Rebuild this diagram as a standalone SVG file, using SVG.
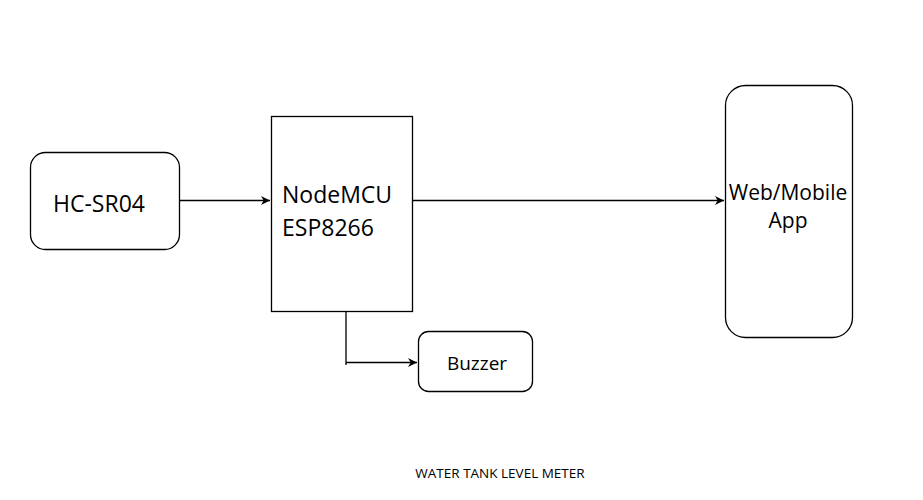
<svg xmlns="http://www.w3.org/2000/svg" width="923" height="500" viewBox="0 0 923 500">
<style>
.box{fill:#fff;stroke:#000;stroke-width:1.3}
.t{font-family:"Open Sans","Noto Sans",sans-serif;fill:#000}
.conn{fill:none;stroke:#000;stroke-width:1.3}
</style>
<defs>
<marker id="ah" viewBox="0 0 10 10" refX="10" refY="5" markerWidth="9" markerHeight="9" markerUnits="userSpaceOnUse" orient="auto">
<path d="M0,0 L10,5 L0,10 L3,5 Z" fill="#000"/>
</marker>
</defs>
<rect width="923" height="500" fill="#fff"/>
<g id="connectors">
<path class="conn" d="M180,200.5 H270" marker-end="url(#ah)"/>
<path class="conn" d="M413,200.5 H724" marker-end="url(#ah)"/>
<path class="conn" d="M346,312 V365 M346,362.5 H417" marker-end="url(#ah)"/>
</g>
<g id="hcsr04">
<rect class="box" x="30.5" y="152.5" width="149" height="97" rx="15"/>
<text class="t" x="53" y="212" font-size="23">HC-SR04</text>
</g>
<g id="nodemcu">
<rect class="box" x="271.5" y="116.5" width="141" height="195"/>
<text class="t" x="282" y="203" font-size="23">NodeMCU</text>
<text class="t" x="282" y="236" font-size="23">ESP8266</text>
</g>
<g id="buzzer">
<rect class="box" x="418.5" y="331.5" width="114" height="60" rx="10"/>
<text class="t" x="477" y="370" font-size="19" text-anchor="middle">Buzzer</text>
</g>
<g id="webapp">
<rect class="box" x="725.5" y="85.5" width="127" height="252" rx="20"/>
<text class="t" x="788" y="200" font-size="21" text-anchor="middle">Web/Mobile</text>
<text class="t" x="788" y="228" font-size="21" text-anchor="middle">App</text>
</g>
<text class="t" x="500" y="478" font-size="13.5" text-anchor="middle" fill="#222">WATER TANK LEVEL METER</text>
</svg>
